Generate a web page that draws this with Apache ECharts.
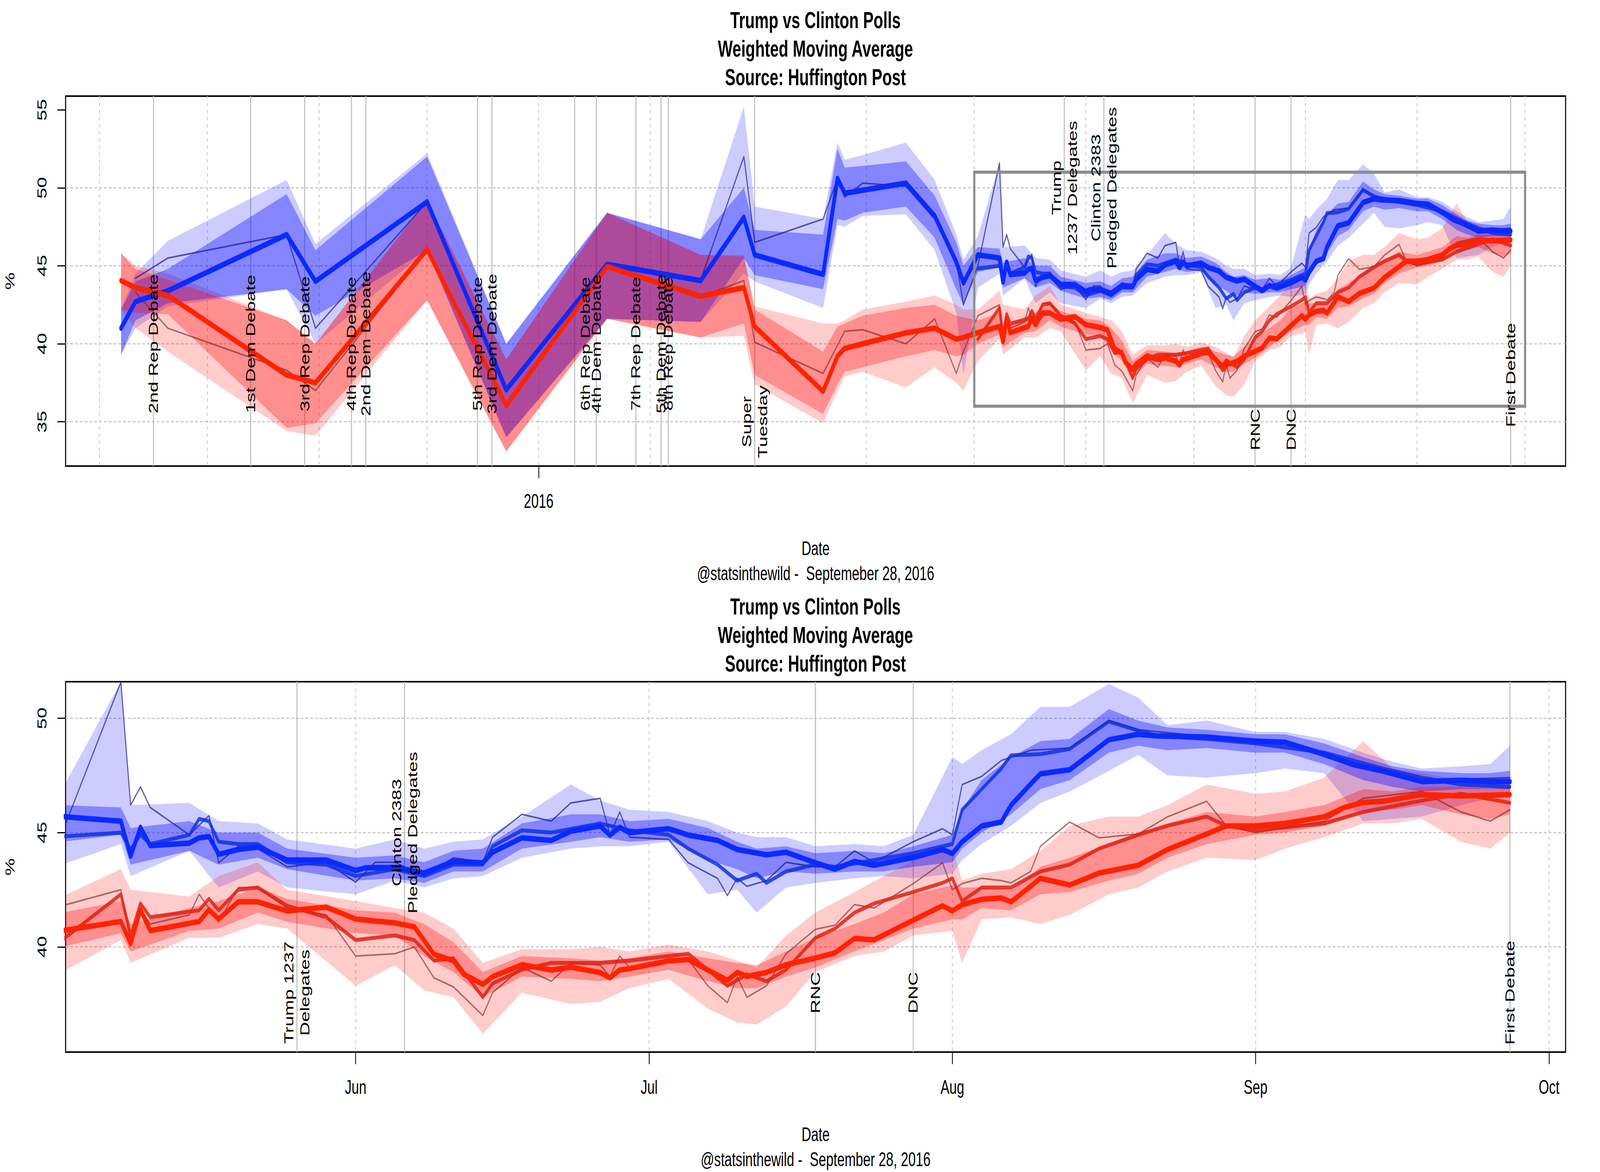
<!DOCTYPE html>
<html><head><meta charset="utf-8">
<script src="https://cdn.jsdelivr.net/npm/echarts@6/dist/echarts.min.js"></script>
<style>html,body{margin:0;padding:0;background:#fff;overflow:hidden;width:100%;height:100%}#c{position:absolute;left:0;top:0;width:6000px;height:3000px;transform-origin:0 0}</style>
</head><body><div id="c"></div>
<script>
// ---------------- DATA ----------------
const clintonMain = [
 ['2015-09-07',41.0],['2015-09-11',42.7],['2015-09-20',43.4],['2015-10-23',47.0],['2015-10-31',44.0],
 ['2015-12-01',49.1],['2015-12-23',37.05],['2016-01-20',45.1],['2016-02-15',44.05],['2016-02-27',48.1],
 ['2016-03-01',45.7],['2016-03-20',44.45],['2016-03-24',50.6],['2016-03-26',49.65],['2016-04-12',50.3],
 ['2016-04-20',48.2],['2016-04-26',45.25],['2016-04-28',43.9],['2016-05-02',45.7],['2016-05-08',45.5],
 ['2016-05-09',43.97],['2016-05-10',45.23],['2016-05-11',44.43],['2016-05-15',44.54],['2016-05-16',44.77],
 ['2016-05-17',44.83],['2016-05-18',44.05],['2016-05-20',44.26],['2016-05-22',44.37],['2016-05-25',43.8],
 ['2016-05-29',43.8],['2016-06-01',43.34],['2016-06-02',43.46],['2016-06-05',43.48],['2016-06-08',43.23],
 ['2016-06-11',43.74],['2016-06-14',43.68],['2016-06-15',44.14],['2016-06-18',44.77],['2016-06-21',44.66],
 ['2016-06-23',45.06],['2016-06-26',45.29],['2016-06-27',44.89],['2016-06-28',45.23],['2016-06-29',45.0],
 ['2016-07-03',45.17],['2016-07-05',44.89],['2016-07-08',44.66],['2016-07-10',44.26],['2016-07-13',44.03],
 ['2016-07-15',44.14],['2016-07-18',43.68],['2016-07-20',43.4],['2016-07-22',43.74],['2016-07-24',43.57],
 ['2016-07-28',43.91],['2016-07-31',44.26],['2016-08-01',44.08],['2016-08-02',44.6],['2016-08-04',45.29],
 ['2016-08-06',45.46],['2016-08-07',46.2],['2016-08-09',47.12],['2016-08-10',47.57],['2016-08-13',47.75],
 ['2016-08-17',49.06],['2016-08-20',49.3],['2016-08-22',49.23],['2016-08-27',49.18],['2016-09-01',49.0],
 ['2016-09-04',48.95],['2016-09-08',48.43],['2016-09-11',47.97],['2016-09-14',47.69],['2016-09-18',47.23],
 ['2016-09-22',47.29],['2016-09-25',47.23],['2016-09-27',47.23]
];
const trumpMain = [
 ['2015-09-07',44.05],['2015-09-11',43.6],['2015-09-20',43.1],['2015-10-23',38.0],['2015-10-31',37.5],
 ['2015-12-01',46.05],['2015-12-23',36.05],['2016-01-20',44.95],['2016-02-15',43.05],['2016-02-27',43.6],
 ['2016-03-01',41.1],['2016-03-20',36.95],['2016-03-24',39.2],['2016-03-26',39.7],['2016-03-31',40.0],
 ['2016-04-12',40.7],['2016-04-20',41.0],['2016-04-26',40.3],['2016-04-28',40.4],['2016-05-02',40.71],
 ['2016-05-08',41.11],['2016-05-09',40.14],['2016-05-10',41.62],['2016-05-11',40.71],['2016-05-16',41.11],
 ['2016-05-17',41.62],['2016-05-18',41.22],['2016-05-20',41.97],['2016-05-22',41.97],['2016-05-25',41.57],
 ['2016-05-29',41.74],['2016-06-01',41.22],['2016-06-05',41.05],['2016-06-07',40.88],['2016-06-09',39.68],
 ['2016-06-11',39.39],['2016-06-12',38.82],['2016-06-14',38.36],['2016-06-15',38.7],['2016-06-18',39.22],
 ['2016-06-21',38.99],['2016-06-23',39.11],['2016-06-26',38.88],['2016-06-27',38.65],['2016-06-28',38.99],
 ['2016-06-29',39.05],['2016-07-03',39.39],['2016-07-05',39.45],['2016-07-07',38.99],['2016-07-09',38.54],
 ['2016-07-10',38.88],['2016-07-11',38.71],['2016-07-13',38.88],['2016-07-15',39.22],['2016-07-18',39.51],
 ['2016-07-20',39.74],['2016-07-22',40.37],['2016-07-24',40.31],['2016-07-28',41.17],['2016-07-31',41.8],
 ['2016-08-01',41.57],['2016-08-02',41.85],['2016-08-04',42.08],['2016-08-06',42.14],['2016-08-07',41.97],
 ['2016-08-09',42.65],['2016-08-10',43.0],['2016-08-13',42.71],['2016-08-16',43.23],['2016-08-20',43.57],
 ['2016-08-23',44.26],['2016-08-27',44.94],['2016-08-29',45.29],['2016-09-01',45.29],['2016-09-04',45.4],
 ['2016-09-08',45.69],['2016-09-10',46.09],['2016-09-12',46.32],['2016-09-14',46.37],['2016-09-18',46.66],
 ['2016-09-22',46.6],['2016-09-27',46.66]
];
const clintonAlt = [
 ['2016-05-02',44.83],['2016-05-08',45.0],['2016-05-09',44.26],['2016-05-10',44.9],['2016-05-11',44.5],
 ['2016-05-15',44.9],['2016-05-16',45.6],['2016-05-17',45.5],['2016-05-18',44.6],['2016-05-20',44.5],
 ['2016-05-22',44.5],['2016-05-25',43.7],['2016-05-29',43.6],['2016-06-01',43.1],['2016-06-05',43.4],
 ['2016-06-08',43.1],['2016-06-11',43.6],['2016-06-14',43.6],['2016-06-15',44.4],['2016-06-18',45.1],
 ['2016-06-21',45.0],['2016-06-26',45.4],['2016-06-29',45.1],['2016-07-03',44.9],['2016-07-05',44.3],
 ['2016-07-08',43.6],['2016-07-10',42.9],['2016-07-12',43.2],['2016-07-13',42.8],['2016-07-15',43.3],
 ['2016-07-18',43.6],['2016-07-20',43.5],['2016-07-24',43.8],['2016-07-28',44.1],['2016-08-01',44.5],
 ['2016-08-02',46.0],['2016-08-04',46.9],['2016-08-06',47.8],['2016-08-07',48.38],['2016-08-10',48.43],
 ['2016-08-13',48.66],['2016-08-17',49.86],['2016-08-20',49.46],['2016-08-22',49.23],['2016-08-27',49.1],
 ['2016-09-01',48.9],['2016-09-08',48.5],['2016-09-14',47.8],['2016-09-18',47.4],['2016-09-22',47.1],
 ['2016-09-27',47.0]
];
const trumpAlt = [
 ['2016-05-02',40.3],['2016-05-08',42.3],['2016-05-09',40.5],['2016-05-10',41.9],['2016-05-11',41.3],
 ['2016-05-16',41.6],['2016-05-17',42.1],['2016-05-18',41.6],['2016-05-20',42.5],['2016-05-22',42.6],
 ['2016-05-25',41.8],['2016-05-29',41.3],['2016-06-01',40.3],['2016-06-05',40.5],['2016-06-07',40.3],
 ['2016-06-09',39.4],['2016-06-11',39.5],['2016-06-14',37.8],['2016-06-15',38.4],['2016-06-18',39.0],
 ['2016-06-21',39.3],['2016-06-26',39.3],['2016-06-29',39.4],['2016-07-03',39.6],['2016-07-05',39.7],
 ['2016-07-09',38.3],['2016-07-11',38.8],['2016-07-13',38.5],['2016-07-15',39.0],['2016-07-18',40.4],
 ['2016-07-20',40.8],['2016-07-22',41.5],['2016-07-24',41.9],['2016-07-28',42.4],['2016-07-31',42.8],
 ['2016-08-01',43.0],['2016-08-02',42.0],['2016-08-04',42.6],['2016-08-07',42.6],['2016-08-10',43.3],
 ['2016-08-13',43.6],['2016-08-16',44.3],['2016-08-20',44.9],['2016-08-23',45.3],['2016-08-27',45.7],
 ['2016-08-29',45.3],['2016-09-01',45.1],['2016-09-08',45.4],['2016-09-12',45.9],['2016-09-18',46.4],
 ['2016-09-22',46.7],['2016-09-27',46.3]
];
const clintonThin = [
 ['2015-09-11',44.2],['2015-09-20',45.5],['2015-10-23',47.0],['2015-10-31',41.0],['2015-12-01',49.1],
 ['2015-12-23',37.1],['2016-01-20',45.1],['2016-02-15',44.1],['2016-02-27',52.0],['2016-03-01',46.5],
 ['2016-03-20',48.0],['2016-03-24',50.6],['2016-03-26',49.4],['2016-03-31',50.3],['2016-04-12',50.1],
 ['2016-04-20',48.0],['2016-04-26',45.3],['2016-04-28',42.5],['2016-05-02',45.0],['2016-05-08',51.58],
 ['2016-05-09',46.2],['2016-05-10',47.0],['2016-05-11',46.1],['2016-05-15',44.9],['2016-05-17',45.74],
 ['2016-05-18',43.68],['2016-05-20',44.4],['2016-05-22',44.3],['2016-05-25',43.5],['2016-05-29',43.7],
 ['2016-06-01',42.83],['2016-06-03',43.7],['2016-06-05',43.7],['2016-06-08',43.1],['2016-06-11',43.9],
 ['2016-06-14',43.7],['2016-06-15',44.8],['2016-06-18',45.8],['2016-06-21',45.5],['2016-06-23',46.3],
 ['2016-06-26',46.5],['2016-06-27',44.9],['2016-06-28',45.9],['2016-06-29',44.8],['2016-07-03',44.7],
 ['2016-07-05',43.68],['2016-07-08',43.0],['2016-07-09',42.25],['2016-07-10',43.0],['2016-07-11',42.65],
 ['2016-07-13',42.9],['2016-07-15',43.7],['2016-07-18',43.5],['2016-07-20',43.5],['2016-07-22',44.2],
 ['2016-07-24',43.7],['2016-07-28',44.6],['2016-07-31',45.17],['2016-08-01',44.9],['2016-08-02',47.1],
 ['2016-08-04',47.46],['2016-08-06',48.15],['2016-08-09',48.6],['2016-08-13',48.7],['2016-08-17',49.9],
 ['2016-08-20',49.5],['2016-08-27',49.2],['2016-09-04',48.9],['2016-09-11',47.9],['2016-09-18',47.3],
 ['2016-09-27',47.4]
];
const trumpThin = [
 ['2015-09-11',43.3],['2015-09-20',41.0],['2015-10-23',38.3],['2015-10-31',37.0],['2015-12-01',46.0],
 ['2015-12-23',36.0],['2016-01-20',44.9],['2016-02-15',43.0],['2016-02-27',44.05],['2016-03-01',40.1],
 ['2016-03-20',38.1],['2016-03-26',40.8],['2016-03-31',40.9],['2016-04-12',40.0],['2016-04-20',41.6],
 ['2016-04-26',38.1],['2016-04-28',39.5],['2016-05-02',41.8],['2016-05-08',42.5],['2016-05-09',40.2],
 ['2016-05-10',41.7],['2016-05-11',41.0],['2016-05-15',41.4],['2016-05-16',42.3],['2016-05-17',41.7],
 ['2016-05-18',41.1],['2016-05-20',42.6],['2016-05-22',42.6],['2016-05-25',41.7],['2016-05-29',41.4],
 ['2016-06-01',39.6],['2016-06-05',39.7],['2016-06-07',40.0],['2016-06-09',38.65],['2016-06-11',38.25],
 ['2016-06-14',37.0],['2016-06-15',38.0],['2016-06-18',39.1],['2016-06-21',38.5],['2016-06-23',39.3],
 ['2016-06-26',39.2],['2016-06-27',38.7],['2016-06-28',39.6],['2016-06-29',39.1],['2016-07-03',39.4],
 ['2016-07-05',39.45],['2016-07-07',38.3],['2016-07-09',37.56],['2016-07-10',38.7],['2016-07-11',37.8],
 ['2016-07-13',38.3],['2016-07-15',39.7],['2016-07-18',40.77],['2016-07-20',40.95],['2016-07-22',41.85],
 ['2016-07-24',41.7],['2016-07-28',42.77],['2016-07-31',43.68],['2016-08-01',42.5],['2016-08-02',42.77],
 ['2016-08-04',43.0],['2016-08-06',42.9],['2016-08-07',42.8],['2016-08-09',43.3],['2016-08-10',44.4],
 ['2016-08-13',45.46],['2016-08-16',44.77],['2016-08-20',44.94],['2016-08-23',45.69],['2016-08-27',46.37],
 ['2016-08-29',45.3],['2016-09-01',45.0],['2016-09-08',45.5],['2016-09-12',46.5],['2016-09-18',46.8],
 ['2016-09-22',45.9],['2016-09-25',45.5],['2016-09-27',46.0]
];
// bands: [date, low, high]
const clintonOuter = [
 ['2015-09-07',39.3,42.2],['2015-09-11',41.0,44.5],['2015-09-20',42.4,46.6],['2015-10-23',43.5,50.5],
 ['2015-10-31',40.0,46.4],['2015-12-01',46.0,52.2],['2015-12-23',34.0,40.0],['2016-01-20',41.6,48.4],
 ['2016-02-15',41.4,46.7],['2016-02-27',44.5,55.2],['2016-03-01',44.0,48.8],['2016-03-20',42.3,48.0],
 ['2016-03-24',47.6,52.9],['2016-03-26',47.5,51.8],['2016-03-31',48.2,52.1],['2016-04-12',48.3,52.9],
 ['2016-04-20',46.0,50.5],['2016-04-26',42.0,47.0],['2016-04-28',38.0,45.4],['2016-05-02',43.6,46.9],
 ['2016-05-08',44.5,51.6],['2016-05-09',43.1,46.2],['2016-05-15',44.2,46.3],['2016-05-18',42.6,45.5],
 ['2016-05-22',43.3,45.4],['2016-05-25',42.6,44.7],['2016-06-01',42.3,44.3],['2016-06-05',42.9,44.7],
 ['2016-06-08',42.6,44.3],['2016-06-11',43.0,44.6],['2016-06-14',43.1,44.7],['2016-06-18',43.9,45.7],
 ['2016-06-23',44.3,47.1],['2016-06-26',44.4,46.4],['2016-06-29',44.4,46.0],['2016-07-03',44.6,45.9],
 ['2016-07-07',42.3,45.5],['2016-07-10',42.5,45.0],['2016-07-12',41.5,44.8],['2016-07-15',42.6,44.8],
 ['2016-07-18',42.8,44.4],['2016-07-22',43.0,44.5],['2016-07-25',43.1,44.4],['2016-07-28',43.0,44.9],
 ['2016-08-01',43.2,48.3],['2016-08-02',43.8,48.0],['2016-08-04',44.5,48.6],['2016-08-07',45.3,49.3],
 ['2016-08-10',46.3,50.5],['2016-08-13',46.8,50.5],['2016-08-17',47.7,51.5],['2016-08-20',48.4,50.9],
 ['2016-08-23',47.5,49.7],['2016-08-27',47.4,49.9],['2016-09-01',47.6,49.4],['2016-09-04',47.8,49.4],
 ['2016-09-08',47.6,49.1],['2016-09-12',45.5,48.5],['2016-09-15',45.6,48.1],['2016-09-18',45.7,47.8],
 ['2016-09-22',46.2,47.9],['2016-09-25',46.5,48.0],['2016-09-27',46.7,48.8]
];
const clintonInner = [
 ['2015-09-07',39.3,42.2],['2015-09-11',41.5,44.0],['2015-09-20',42.6,44.8],['2015-10-23',43.5,49.6],
 ['2015-10-31',41.8,46.0],['2015-12-01',46.0,52.0],['2015-12-23',34.0,40.0],['2016-01-20',41.6,48.4],
 ['2016-02-15',41.4,46.7],['2016-02-27',45.5,50.0],['2016-03-01',44.4,47.3],['2016-03-20',43.5,47.0],
 ['2016-03-24',48.0,52.5],['2016-03-26',47.9,51.3],['2016-03-31',48.4,51.4],['2016-04-12',48.8,51.7],
 ['2016-04-20',46.8,49.5],['2016-04-26',43.5,46.5],['2016-04-28',42.5,45.0],['2016-05-02',44.6,46.2],
 ['2016-05-08',44.9,46.1],['2016-05-09',43.6,45.2],['2016-05-15',44.2,45.5],['2016-05-18',43.6,45.0],
 ['2016-05-22',43.9,45.0],['2016-05-25',43.4,44.3],['2016-06-01',42.9,43.9],['2016-06-05',43.0,44.0],
 ['2016-06-08',42.8,43.7],['2016-06-11',43.3,44.2],['2016-06-14',43.3,44.3],['2016-06-18',44.3,45.4],
 ['2016-06-23',44.6,45.8],['2016-06-26',44.8,45.8],['2016-06-29',44.6,45.5],['2016-07-03',44.7,45.6],
 ['2016-07-07',43.8,45.2],['2016-07-10',43.4,44.6],['2016-07-12',43.0,44.3],['2016-07-15',43.3,44.4],
 ['2016-07-18',43.2,44.1],['2016-07-22',43.3,44.2],['2016-07-25',43.3,44.1],['2016-07-28',43.5,44.4],
 ['2016-08-01',43.7,44.9],['2016-08-02',44.3,46.0],['2016-08-04',45.0,47.3],['2016-08-07',45.8,48.3],
 ['2016-08-10',46.9,49.0],['2016-08-13',47.3,49.1],['2016-08-17',48.5,50.4],['2016-08-20',48.8,49.9],
 ['2016-08-23',48.6,49.6],['2016-08-27',48.7,49.5],['2016-09-01',48.5,49.3],['2016-09-04',48.5,49.3],
 ['2016-09-08',48.0,48.9],['2016-09-12',47.3,48.3],['2016-09-15',47.0,47.9],['2016-09-18',46.8,47.7],
 ['2016-09-22',46.9,47.6],['2016-09-25',46.9,47.6],['2016-09-27',46.9,47.7]
];
const trumpOuter = [
 ['2015-09-07',42.2,45.8],['2015-09-11',41.0,45.0],['2015-09-20',39.5,44.5],['2015-10-23',34.4,41.5],
 ['2015-10-31',34.1,40.0],['2015-12-01',42.8,49.2],['2015-12-23',33.1,39.0],['2016-01-20',41.6,48.4],
 ['2016-02-15',40.4,45.7],['2016-02-27',40.5,45.7],['2016-03-01',37.4,42.4],['2016-03-20',34.9,41.3],
 ['2016-03-24',37.0,41.3],['2016-03-26',37.9,41.5],['2016-03-31',38.2,42.2],['2016-04-12',37.2,42.7],
 ['2016-04-20',38.5,43.1],['2016-04-26',37.5,42.5],['2016-04-28',37.0,42.2],['2016-05-02',38.9,42.2],
 ['2016-05-08',40.3,43.4],['2016-05-09',39.3,42.5],['2016-05-15',40.4,42.2],['2016-05-18',40.4,43.1],
 ['2016-05-22',41.0,43.7],['2016-05-25',40.8,42.5],['2016-06-01',38.3,42.0],['2016-06-05',39.2,41.7],
 ['2016-06-08',38.1,41.5],['2016-06-11',37.8,40.8],['2016-06-14',36.2,39.3],['2016-06-18',38.0,39.9],
 ['2016-06-23',37.5,39.9],['2016-06-26',37.6,40.0],['2016-06-29',38.2,39.8],['2016-07-03',38.6,40.1],
 ['2016-07-07',37.3,39.8],['2016-07-10',36.7,39.4],['2016-07-12',36.6,39.1],['2016-07-15',37.4,40.5],
 ['2016-07-18',38.9,41.5],['2016-07-22',39.6,42.4],['2016-07-25',39.8,43.1],['2016-07-28',40.5,43.8],
 ['2016-08-01',40.7,44.3],['2016-08-02',39.3,42.9],['2016-08-04',41.2,43.2],['2016-08-07',41.3,43.4],
 ['2016-08-10',41.0,44.2],['2016-08-13',41.4,45.3],['2016-08-17',42.3,45.7],['2016-08-20',42.6,45.7],
 ['2016-08-23',43.3,46.2],['2016-08-27',43.9,47.1],['2016-09-01',43.8,46.7],['2016-09-04',44.3,46.8],
 ['2016-09-08',44.8,47.4],['2016-09-12',45.4,49.0],['2016-09-15',45.4,47.8],['2016-09-18',45.6,47.6],
 ['2016-09-22',44.6,47.3],['2016-09-25',44.3,47.3],['2016-09-27',45.0,47.4]
];
const trumpInner = [
 ['2015-09-07',42.2,45.8],['2015-09-11',42.0,44.8],['2015-09-20',41.9,44.1],['2015-10-23',34.6,41.5],
 ['2015-10-31',34.9,40.0],['2015-12-01',42.8,49.2],['2015-12-23',33.1,39.0],['2016-01-20',41.6,48.4],
 ['2016-02-15',40.4,45.7],['2016-02-27',41.3,45.6],['2016-03-01',38.0,42.2],['2016-03-20',35.5,39.5],
 ['2016-03-24',37.4,41.1],['2016-03-26',38.2,41.3],['2016-03-31',38.5,41.8],['2016-04-12',39.2,42.3],
 ['2016-04-20',39.6,42.5],['2016-04-26',39.2,41.8],['2016-04-28',39.3,41.7],['2016-05-02',40.0,41.5],
 ['2016-05-08',40.6,42.0],['2016-05-09',39.8,41.0],['2016-05-15',40.7,41.7],['2016-05-18',40.8,42.0],
 ['2016-05-22',41.5,42.6],['2016-05-25',41.1,42.1],['2016-06-01',40.6,41.6],['2016-06-05',40.5,41.5],
 ['2016-06-08',39.6,41.0],['2016-06-11',38.9,40.2],['2016-06-14',37.8,38.9],['2016-06-18',38.7,39.6],
 ['2016-06-23',38.6,39.5],['2016-06-26',38.5,39.4],['2016-06-29',38.7,39.5],['2016-07-03',39.0,39.8],
 ['2016-07-07',38.5,39.5],['2016-07-10',38.2,39.3],['2016-07-12',38.2,39.2],['2016-07-15',38.7,39.8],
 ['2016-07-18',39.1,40.4],['2016-07-22',39.8,41.0],['2016-07-25',40.3,41.5],['2016-07-28',40.8,42.3],
 ['2016-08-01',41.2,42.7],['2016-08-02',41.2,42.6],['2016-08-04',41.7,42.6],['2016-08-07',41.6,42.5],
 ['2016-08-10',42.3,43.5],['2016-08-13',42.4,43.9],['2016-08-17',42.9,44.5],['2016-08-20',43.2,45.0],
 ['2016-08-23',43.9,45.4],['2016-08-27',44.5,45.9],['2016-09-01',44.9,45.7],['2016-09-04',45.0,45.9],
 ['2016-09-08',45.3,46.2],['2016-09-12',45.9,46.9],['2016-09-15',46.0,46.8],['2016-09-18',46.2,47.0],
 ['2016-09-22',45.8,47.0],['2016-09-25',45.6,46.9],['2016-09-27',45.8,47.0]
];
// events: [line date, top label, bottom label]
const events = [
 ['2015-09-16','2nd Rep Debate',null],['2015-10-13','1st Dem Debate',null],['2015-10-28','3rd Rep Debate',null],
 ['2015-11-10','4th Rep Debate',null],['2015-11-14','2nd Dem Debate',null],['2015-12-15','5th Rep Debate',null],
 ['2015-12-19','3rd Dem Debate',null],['2016-01-11','6th Rep Debate',null],['2016-01-17','4th Dem Debate',null],
 ['2016-01-28','7th Rep Debate',null],['2016-02-04','5th Dem Debate',null],['2016-02-06','8th Rep Debate',null],
 ['2016-03-01','Super\nTuesday',null],['2016-05-26','Trump\n1237 Delegates','Trump 1237\nDelegates'],
 ['2016-06-06','Clinton 2383\nPledged Delegates','Clinton 2383\nPledged Delegates'],
 ['2016-07-18','RNC','RNC'],['2016-07-28','DNC','DNC'],['2016-09-27','First Debate','First Debate']
];
const topTicks = ['2016-01-01'];
const bottomTicks = ['2016-06-01','2016-07-01','2016-08-01','2016-09-01','2016-10-01'];
const topYTicks = [35,40,45,50,55];
const bottomYTicks = [40,45,50];
const topHGrid = [35,40,45,50];
const bottomHGrid = [40,45,50];
const topMonths = ['2015-09-01','2015-10-01','2015-11-01','2015-12-01','2016-01-01','2016-02-01','2016-03-01',
 '2016-04-01','2016-05-01','2016-06-01','2016-07-01','2016-08-01','2016-09-01','2016-10-01'];
const bottomMonths = ['2016-06-01','2016-07-01','2016-08-01','2016-09-01','2016-10-01'];
const zoomBox = {from:'2016-05-01', to:'2016-10-01', lo:36, hi:51};

// ---------------- LAYOUT / STYLE ----------------
const dom = document.getElementById('c');
const VW = window.innerWidth || 6000, VH = window.innerHeight || 3000;
dom.style.transform = 'scale(' + (VW/6000) + ',' + (VH/3000) + ')';

const FONT = 'Liberation Sans';
const DAY = 864e5;
function ts(s){const p=s.split('-').map(Number);return new Date(p[0],p[1]-1,p[2]).getTime();}
const xRange = [
  [ts('2016-01-01')-131.41*DAY, ts('2016-01-01')+285.26*DAY],
  [ts('2016-06-01')-29.65*DAY, ts('2016-10-01')+1.69*DAY]
];
const yRange = [[32.16,55.88],[35.4,51.6]];
const topLabelY = [40,40,40,40,40,40,40,40,40,40,40,40,35,50,50,34.5,34.5,38];
const bottomLabelY = [null,null,null,null,null,null,null,null,null,null,null,null,null,38,45,38,38,38];
const labelDateOverride = {7:'2016-01-14'};
const MONTHS=['Jan','Feb','Mar','Apr','May','Jun','Jul','Aug','Sep','Oct','Nov','Dec'];

function lineSeries(gi, arr, color, width, opacity){
  return {type:'line', xAxisIndex:gi, yAxisIndex:gi, data:arr.map(d=>[ts(d[0]),d[1]]),
    showSymbol:false, symbol:'none', silent:true, z:2, animation:false,
    lineStyle:{color, width, opacity, cap:'round', join:'round'}};
}
function bandSeries(gi, band, color){
  const pts = band.map(b=>[ts(b[0]),b[1],b[2]]);
  return {type:'custom', xAxisIndex:gi, yAxisIndex:gi, clip:true, silent:true, z:2, animation:false,
    data:pts, encode:{x:0,y:[1,2]},
    renderItem:(params, api)=>{
      if(params.dataIndex!==0) return null;
      const up = pts.map(p=>api.coord([p[0],p[2]]));
      const lo = pts.map(p=>api.coord([p[0],p[1]])).reverse();
      return {type:'polygon', shape:{points:up.concat(lo)}, style:{fill:color}};
    }};
}
function hLines(gi, vals, stroke, width, dash){
  return {type:'custom', xAxisIndex:gi, yAxisIndex:gi, silent:true, z:1, animation:false,
    data:vals.map(v=>[xRange[gi][0],v]), encode:{x:0,y:1},
    renderItem:(params, api)=>{
      const cs=params.coordSys; const y=api.coord([api.value(0),api.value(1)])[1];
      return {type:'line', shape:{x1:cs.x,y1:y,x2:cs.x+cs.width,y2:y}, style:{stroke, lineWidth:width, lineDash:dash}};
    }};
}
function vLines(gi, dates, stroke, width, dash){
  return {type:'custom', xAxisIndex:gi, yAxisIndex:gi, silent:true, z:1, animation:false,
    data:dates.map(d=>[ts(d),yRange[gi][0]]), encode:{x:0,y:1},
    renderItem:(params, api)=>{
      const cs=params.coordSys; const x=api.coord([api.value(0),api.value(1)])[0];
      if (x < cs.x-1 || x > cs.x+cs.width+1) return null;
      return {type:'line', shape:{x1:x,y1:cs.y,x2:x,y2:cs.y+cs.height}, style:{stroke, lineWidth:width, lineDash:dash}};
    }};
}
function labelSeries(gi, items){
  return {type:'custom', xAxisIndex:gi, yAxisIndex:gi, silent:true, z:6, animation:false,
    data:items.map(it=>[it[0],it[1]]), encode:{x:0,y:1},
    renderItem:(params, api)=>{
      const p=api.coord([api.value(0),api.value(1)]);
      return {type:'text', x:p[0], y:p[1], rotation:Math.PI/2,
        style:{text:items[params.dataIndex][2], fontSize:49, fontFamily:FONT, fill:'#000',
          align:'center', verticalAlign:'middle', lineHeight:60}};
    }};
}
function boxSeries(){
  const a=[ts(zoomBox.from),zoomBox.lo], b=[ts(zoomBox.to),zoomBox.hi];
  return {type:'custom', xAxisIndex:0, yAxisIndex:0, silent:true, z:5, animation:false,
    data:[a,b], encode:{x:0,y:1},
    renderItem:(params, api)=>{
      if(params.dataIndex!==0) return null;
      const p1=api.coord(a), p2=api.coord(b);
      return {type:'rect', shape:{x:p1[0],y:p2[1],width:p2[0]-p1[0],height:p1[1]-p2[1]},
        style:{fill:'none', stroke:'#8c8c8c', lineWidth:8}};
    }};
}

const series = [];
for (let gi=0; gi<2; gi++){
  series.push(hLines(gi, gi===0?topHGrid:bottomHGrid, '#c4c4c4', 3, [10,8]));
  series.push(vLines(gi, gi===0?topMonths:bottomMonths, '#c4c4c4', 3, [8,10]));
  const evDates = events.filter(e=> gi===0 || e[2]).map(e=>e[0]);
  series.push(vLines(gi, evDates, '#c0c0c0', 4, null));
  series.push(bandSeries(gi, clintonOuter, 'rgba(0,0,255,0.2)'));
  series.push(bandSeries(gi, trumpOuter, 'rgba(255,0,0,0.2)'));
  series.push(lineSeries(gi, clintonThin, '#1a1a8c', 4, 0.7));
  series.push(lineSeries(gi, trumpThin, '#7a1a1a', 4, 0.6));
  series.push(lineSeries(gi, clintonAlt, '#1030e0', 10, 0.85));
  series.push(lineSeries(gi, trumpAlt, '#e02010', 10, 0.85));
  series.push(lineSeries(gi, clintonMain, '#0a2aff', 14, 1));
  series.push(lineSeries(gi, trumpMain, '#ff2200', 14, 1));
  series.push(bandSeries(gi, clintonInner, 'rgba(0,0,255,0.35)'));
  series.push(bandSeries(gi, trumpInner, 'rgba(255,0,0,0.3)'));
  const items = [];
  events.forEach((e,i)=>{
    const txt = gi===0 ? e[1] : e[2];
    if(!txt) return;
    const d = labelDateOverride[i] || e[0];
    items.push([ts(d), gi===0?topLabelY[i]:bottomLabelY[i], txt]);
  });
  series.push(labelSeries(gi, items));
}
series.push(boxSeries());

const titleText = 'Trump vs Clinton Polls\nWeighted Moving Average\nSource: Huffington Post';
const titleStyle = {fontSize:59, fontWeight:'bold', lineHeight:73, color:'#000', fontFamily:FONT};
const gridCommon = {left:246, width:5625, show:true, borderColor:'#000', borderWidth:4, backgroundColor:'transparent'};

function xAxisCfg(gi){
  const ticks = (gi===0?topTicks:bottomTicks).map(ts);
  return {gridIndex:gi, type:'value', min:xRange[gi][0], max:xRange[gi][1], scale:true,
    axisLine:{show:false}, splitLine:{show:false},
    axisTick:{show:true, length:31, lineStyle:{color:'#000', width:3}, customValues:ticks},
    axisLabel:{customValues:ticks, fontSize:50, color:'#000', margin:64, fontFamily:FONT, lineHeight:50,
      formatter:(v)=> gi===0 ? String(new Date(v).getFullYear()) : MONTHS[new Date(v).getMonth()]},
    name: gi===0 ? 'Date\n@statsinthewild -  Septemeber 28, 2016' : 'Date\n@statsinthewild -  September 28, 2016',
    nameLocation:'middle', nameGap:178,
    nameTextStyle:{fontSize:50, lineHeight:64, color:'#000', fontFamily:FONT}};
}
function yAxisCfg(gi){
  const ticks = gi===0?topYTicks:bottomYTicks;
  return {gridIndex:gi, type:'value', min:yRange[gi][0], max:yRange[gi][1],
    axisLine:{show:false}, splitLine:{show:false},
    axisTick:{show:true, length:31, lineStyle:{color:'#000', width:3}, customValues:ticks},
    axisLabel:{customValues:ticks, rotate:90, margin:64, fontSize:50, color:'#000', fontFamily:FONT, lineHeight:50},
    name:'%', nameLocation:'middle', nameRotate:90, nameGap:184,
    nameTextStyle:{fontSize:50, lineHeight:50, color:'#000', fontFamily:FONT}};
}

const chart = echarts.init(dom, null, {renderer:'svg', width:6000, height:3000});
chart.setOption({
  backgroundColor:'#fff',
  animation:false,
  title:[
    {text:titleText, left:3058, top:15, textAlign:'center', padding:0, textStyle:titleStyle},
    {text:titleText, left:3058, top:1516, textAlign:'center', padding:0, textStyle:titleStyle}
  ],
  grid:[Object.assign({top:246, height:947}, gridCommon), Object.assign({top:1745, height:948}, gridCommon)],
  xAxis:[xAxisCfg(0), xAxisCfg(1)],
  yAxis:[yAxisCfg(0), yAxisCfg(1)],
  series
});
</script></body></html>
